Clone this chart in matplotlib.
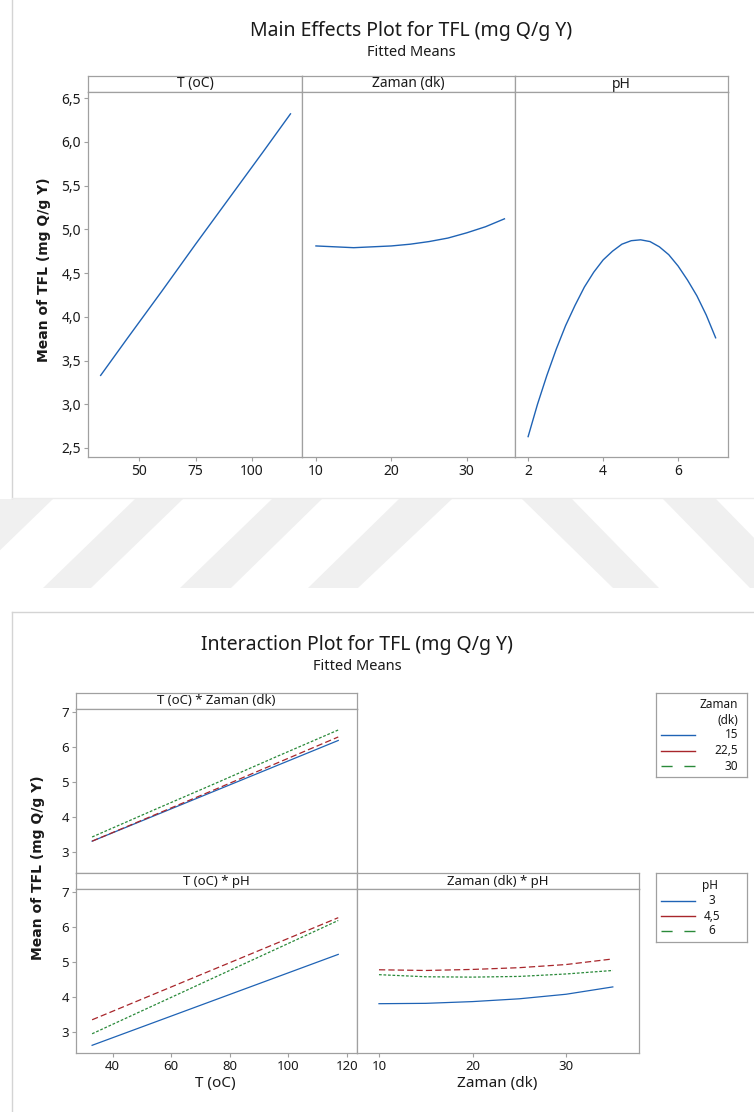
import matplotlib.pyplot as plt
from matplotlib.patches import Polygon

plt.rcParams['font.family'] = ['Noto Sans', 'DejaVu Sans']

W, H = 754, 1112  # figure size in pixels

# ---- main effects data (fitted means) ----
temp_x = [33, 45, 60, 75, 90, 105, 117]
temp_mean = [3.33, 3.76, 4.29, 4.83, 5.36, 5.89, 6.32]
time_x = [10, 12.5, 15, 17.5, 20, 22.5, 25, 27.5, 30, 32.5, 35]
time_mean = [4.81, 4.80, 4.79, 4.80, 4.81, 4.83, 4.86, 4.90, 4.96, 5.03, 5.12]
ph_x = [2, 2.25, 2.5, 2.75, 3, 3.25, 3.5, 3.75, 4, 4.25, 4.5, 4.75, 5,
        5.25, 5.5, 5.75, 6, 6.25, 6.5, 6.75, 7]
ph_mean = [2.63, 3.00, 3.33, 3.63, 3.90, 4.13, 4.34, 4.51, 4.65, 4.75, 4.83,
           4.87, 4.88, 4.86, 4.80, 4.71, 4.58, 4.42, 4.24, 4.02, 3.76]

main_yticks = [2.5, 3.0, 3.5, 4.0, 4.5, 5.0, 5.5, 6.0, 6.5]
main_ylabels = ['2,5', '3,0', '3,5', '4,0', '4,5', '5,0', '5,5', '6,0', '6,5']

# ---- interaction data ----
int_temp = [33, 54, 75, 96, 117]
zaman_levels = ['15', '22,5', '30']
t_by_zaman = [
    [3.31, 4.03, 4.75, 5.47, 6.19],
    [3.31, 4.05, 4.79, 5.54, 6.29],
    [3.43, 4.20, 4.96, 5.73, 6.49],
]
ph_levels = ['3', '4,5', '6']
t_by_ph = [
    [2.62, 3.27, 3.92, 4.57, 5.22],
    [3.35, 4.08, 4.81, 5.54, 6.27],
    [2.95, 3.76, 4.57, 5.38, 6.19],
]
int_time = [10, 15, 20, 25, 30, 35]
time_by_ph = [
    [3.81, 3.82, 3.87, 3.95, 4.08, 4.29],
    [4.78, 4.76, 4.79, 4.84, 4.93, 5.09],
    [4.64, 4.58, 4.57, 4.59, 4.66, 4.76],
]

BLUE = '#1f63b5'
RED = '#a8262b'
GREEN = '#2a8a3a'
GRID = '#a0a0a0'
TXT = '#1a1a1a'
styles = [
    dict(color=BLUE, ls='-'),
    dict(color=RED, ls=(0, (5, 2.5))),
    dict(color=GREEN, ls=(0, (2.2, 1.4))),
]
legend_ls = ['-', '-', (0, (8, 8.5))]


def rect(x0, y0, x1, y1):
    return [x0 / W, 1 - y1 / H, (x1 - x0) / W, (y1 - y0) / H]


def fx(x):
    return x / W


def fy(y):
    return 1 - y / H


def style_axes(ax):
    for s in ax.spines.values():
        s.set_color(GRID)
        s.set_linewidth(0.9)
    ax.tick_params(direction='out', length=3, width=0.8, color=GRID,
                   labelcolor=TXT, labelsize=10, pad=2)


def header(x0, y0, x1, y1, text, size=10):
    hx = fig.add_axes(rect(x0, y0, x1, y1))
    hx.set_xticks([])
    hx.set_yticks([])
    style_axes(hx)
    hx.text(0.5, 0.5, text, ha='center', va='center', fontsize=size,
            color=TXT, transform=hx.transAxes)


fig = plt.figure(figsize=(W / 100, H / 100), dpi=100)

# background decoration: panel borders and watermark stripes
stripes = [
    [(0, 499), (53, 499), (-39, 588), (-92, 588)],
    [(135, 499), (183, 499), (91, 588), (43, 588)],
    [(272, 499), (322, 499), (231, 588), (180, 588)],
    [(399, 499), (452, 499), (358, 588), (308, 588)],
    [(522, 499), (572, 499), (659, 588), (613, 588)],
    [(663, 499), (716, 499), (803, 588), (750, 588)],
]
for pts in stripes:
    fig.patches.append(Polygon([(fx(a), fy(b)) for a, b in pts], closed=True,
                               facecolor='#f0f0f0', edgecolor='none',
                               transform=fig.transFigure, zorder=0))
fig.add_artist(plt.Line2D([fx(12), fx(12)], [fy(0), fy(498)], color='#d4d4d4', lw=1))
fig.add_artist(plt.Line2D([fx(12), fx(754)], [fy(498), fy(498)], color='#ececec', lw=1))
fig.add_artist(plt.Line2D([fx(12), fx(754)], [fy(612), fy(612)], color='#d4d4d4', lw=1))
fig.add_artist(plt.Line2D([fx(12), fx(12)], [fy(612), fy(1112)], color='#d4d4d4', lw=1))

# ================= Main effects plot =================
fig.text(fx(411), fy(31), 'Main Effects Plot for TFL (mg Q/g Y)', ha='center',
         va='center', fontsize=14, color=TXT)
fig.text(fx(411), fy(53), 'Fitted Means', ha='center', va='center',
         fontsize=10.5, color=TXT)
fig.text(fx(44), fy(270), 'Mean of TFL (mg Q/g Y)', rotation=90, ha='center',
         va='center', fontsize=10, fontweight='bold', color=TXT,
         family='DejaVu Sans')

main_panels = [
    ('T (oC)', 88, 302, temp_x, temp_mean, (27.4, 122.1), [50, 75, 100]),
    ('Zaman (dk)', 302, 515, time_x, time_mean, (8.15, 36.4), [10, 20, 30]),
    ('pH', 515, 728, ph_x, ph_mean, (1.65, 7.33), [2, 4, 6]),
]
for i, (name, x0, x1, xs, ys, xl, xt) in enumerate(main_panels):
    header(x0, 76, x1, 92, name)
    ax = fig.add_axes(rect(x0, 92, x1, 457))
    style_axes(ax)
    ax.plot(xs, ys, color=BLUE, lw=1.0)
    ax.set_xlim(*xl)
    ax.set_ylim(2.397, 6.57)
    ax.set_xticks(xt)
    ax.set_xticklabels([str(v) for v in xt])
    if i == 0:
        ax.set_yticks(main_yticks)
        ax.set_yticklabels(main_ylabels)
    else:
        ax.set_yticks([])

# ================= Interaction plot =================
fig.text(fx(357), fy(645), 'Interaction Plot for TFL (mg Q/g Y)', ha='center',
         va='center', fontsize=14, color=TXT)
fig.text(fx(357), fy(666), 'Fitted Means', ha='center', va='center',
         fontsize=10.5, color=TXT)
fig.text(fx(38), fy(868), 'Mean of TFL (mg Q/g Y)', rotation=90, ha='center',
         va='center', fontsize=10, fontweight='bold', color=TXT,
         family='DejaVu Sans')

int_yticks = [3, 4, 5, 6, 7]
int_panels = [
    ('T (oC) * Zaman (dk)', 76, 357, 693, int_temp, t_by_zaman, (27.5, 123.4), None),
    ('T (oC) * pH', 76, 357, 873, int_temp, t_by_ph, (27.5, 123.4), [40, 60, 80, 100, 120]),
    ('Zaman (dk) * pH', 357, 639, 873, int_time, time_by_ph, (7.65, 37.8), [10, 20, 30]),
]
for name, x0, x1, y0, xs, series, xl, xt in int_panels:
    header(x0, y0, x1, y0 + 16, name, size=9.5)
    ax = fig.add_axes(rect(x0, y0 + 16, x1, y0 + 180))
    style_axes(ax)
    ax.tick_params(labelsize=9.5)
    for ys, st in zip(series, styles):
        ax.plot(xs, ys, lw=0.9, **st)
    ax.set_xlim(*xl)
    ax.set_ylim(2.4, 7.09)
    if xt is None:
        ax.set_xticks([])
    else:
        ax.set_xticks(xt)
    if x0 == 76:
        ax.set_yticks(int_yticks)
    else:
        ax.set_yticks([])

fig.text(fx(215), fy(1083), 'T (oC)', ha='center', va='center', fontsize=11, color=TXT)
fig.text(fx(497), fy(1083), 'Zaman (dk)', ha='center', va='center', fontsize=11, color=TXT)


# legends drawn in small boxes, pixel coordinates inside
def legend_box(y0, y1, title_lines, labels, label_x, label_ha, title_x, title_ha, rows_y):
    lx = fig.add_axes(rect(656, y0, 747, y1))
    lx.set_xlim(656, 747)
    lx.set_ylim(y1, y0)
    lx.set_xticks([])
    lx.set_yticks([])
    for s in lx.spines.values():
        s.set_color(GRID)
        s.set_linewidth(0.9)
    for ty, tt in title_lines:
        lx.text(title_x, ty, tt, ha=title_ha, va='center', fontsize=8.5, color=TXT)
    for lab, yy, st, ls in zip(labels, rows_y, styles, legend_ls):
        lx.plot([661, 695], [yy, yy], color=st['color'], ls=ls, lw=1.0)
        lx.text(label_x, yy, lab, ha=label_ha, va='center', fontsize=8.5, color=TXT)


legend_box(693, 777, [(704, 'Zaman'), (720, '(dk)')], zaman_levels, 738, 'right',
           738, 'right', [735, 751, 766])
legend_box(873, 942, [(885, 'pH')], ph_levels, 712, 'center', 710, 'center',
           [901, 916, 931])

fig.savefig('out.png', dpi=100)
